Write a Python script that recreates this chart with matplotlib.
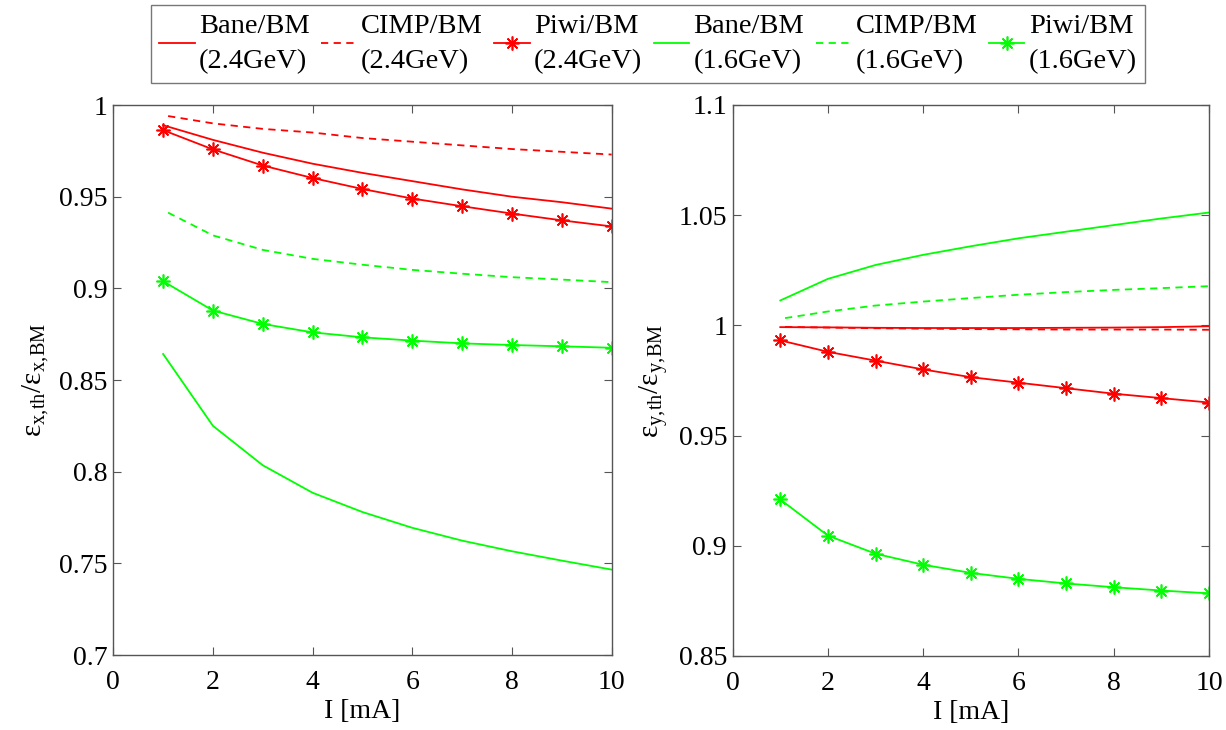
import numpy as np
import matplotlib
matplotlib.use("Agg")
import matplotlib.pyplot as plt
from matplotlib.ticker import FormatStrFormatter

plt.rcParams["font.family"] = ["Liberation Serif", "DejaVu Serif"]
plt.rcParams["mathtext.fontset"] = "custom"
plt.rcParams["mathtext.rm"] = "Liberation Serif"
plt.rcParams["mathtext.it"] = "Liberation Serif"

# current (mA)
I = [1, 2, 3, 4, 5, 6, 7, 8, 9, 10]
I_cimp = [1.1, 2, 3, 4, 5, 6, 7, 8, 9, 10]

# horizontal emittance ratios
x_bane_24 = [0.989, 0.981, 0.974, 0.968, 0.963, 0.9585, 0.954, 0.950, 0.947, 0.9435]
x_cimp_24 = [0.994, 0.990, 0.987, 0.985, 0.982, 0.980, 0.978, 0.976, 0.9745, 0.973]
x_piwi_24 = [0.9863, 0.9758, 0.967, 0.9602, 0.9542, 0.949, 0.9448, 0.9408, 0.9371, 0.9338]
x_bane_16 = [0.8642, 0.825, 0.8035, 0.7885, 0.778, 0.7694, 0.7624, 0.7566, 0.7515, 0.7466]
x_cimp_16 = [0.9413, 0.9289, 0.921, 0.9161, 0.9129, 0.9101, 0.908, 0.9061, 0.9048, 0.9034]
x_piwi_16 = [0.9039, 0.8879, 0.8806, 0.876, 0.8733, 0.8715, 0.870, 0.8691, 0.8684, 0.8676]

# vertical emittance ratios
y_bane_24 = [0.9992, 0.9991, 0.9989, 0.9988, 0.9988, 0.9988, 0.9989, 0.999, 0.9992, 0.9996]
y_cimp_24 = [0.9993, 0.999, 0.9987, 0.9985, 0.9983, 0.9982, 0.9981, 0.9981, 0.9981, 0.998]
y_piwi_24 = [0.9932, 0.988, 0.984, 0.980, 0.9765, 0.974, 0.9715, 0.969, 0.967, 0.965]
y_bane_16 = [1.0113, 1.0211, 1.0274, 1.032, 1.0359, 1.0395, 1.0425, 1.0455, 1.0485, 1.0512]
y_cimp_16 = [1.0033, 1.0063, 1.009, 1.0108, 1.0124, 1.0139, 1.0151, 1.0161, 1.0169, 1.0178]
y_piwi_16 = [0.921, 0.9046, 0.8964, 0.8914, 0.8877, 0.885, 0.8829, 0.8812, 0.8797, 0.8784]

labels = ["Bane/BM\n(2.4GeV)", "CIMP/BM\n(2.4GeV)", "Piwi/BM\n(2.4GeV)",
          "Bane/BM\n(1.6GeV)", "CIMP/BM\n(1.6GeV)", "Piwi/BM\n(1.6GeV)"]

RED = "#ff0000"
GREEN = "#00ff00"
AX = "#555555"
FS = 20
ast = (8, 2, 0)


def draw(ax, bane24, cimp24, piwi24, bane16, cimp16, piwi16):
    h = []
    h += ax.plot(I, bane24, color=RED, lw=1.3)
    h += ax.plot(I_cimp, cimp24, color=RED, lw=1.3, ls=(0, (4, 3)))
    h += ax.plot(I, piwi24, color=RED, lw=1.3, marker=ast, ms=10, mew=1.2)
    h += ax.plot(I, bane16, color=GREEN, lw=1.3)
    h += ax.plot(I_cimp, cimp16, color=GREEN, lw=1.3, ls=(0, (4, 3)))
    h += ax.plot(I, piwi16, color=GREEN, lw=1.3, marker=ast, ms=10, mew=1.2)
    ax.set_xlim(0, 10)
    ax.set_xticks([0, 2, 4, 6, 8, 10])
    ax.set_xlabel("I [mA]", fontsize=FS, labelpad=3)
    ax.yaxis.set_major_formatter(FormatStrFormatter("%g"))
    ax.tick_params(direction="in", top=True, right=True, length=6,
                   labelsize=FS, color=AX)
    ax.tick_params(axis="x", pad=11)
    ax.tick_params(axis="y", pad=4)
    for s in ax.spines.values():
        s.set_color(AX)
        s.set_linewidth(1.0)
    return h


fig = plt.figure(figsize=(12.26, 7.3), dpi=100)
ax1 = fig.add_axes([0.0924, 0.1027, 0.4065, 0.7534])
ax2 = fig.add_axes([0.5976, 0.1014, 0.3885, 0.7548])

h = draw(ax1, x_bane_24, x_cimp_24, x_piwi_24, x_bane_16, x_cimp_16, x_piwi_16)
ax1.set_ylim(0.7, 1.0)
ax1.set_yticks([0.7, 0.75, 0.8, 0.85, 0.9, 0.95, 1.0])
ax1.set_ylabel(r"$\mathrm{ε_{x,\!th}/ε_{x,\!BM}}$", fontsize=21, labelpad=6)

draw(ax2, y_bane_24, y_cimp_24, y_piwi_24, y_bane_16, y_cimp_16, y_piwi_16)
ax2.set_ylim(0.85, 1.1)
ax2.set_yticks([0.85, 0.9, 0.95, 1.0, 1.05, 1.1])
ax2.set_ylabel(r"$\mathrm{ε_{y,\!th}/ε_{y,\!BM}}$", fontsize=21, labelpad=6)

leg = fig.legend(h, labels, loc="upper center", bbox_to_anchor=(0.5285, 0.993),
                 ncol=6, fontsize=20.5, frameon=True, fancybox=False,
                 handlelength=1.25, handletextpad=0.15, columnspacing=0.4,
                 borderpad=0.3, labelspacing=0.2, borderaxespad=0)
for t in leg.get_texts():
    t.set_linespacing(1.55)
    t.set_multialignment("left")
leg.get_frame().set_edgecolor(AX)
leg.get_frame().set_linewidth(1.0)

fig.savefig("out.png", dpi=100)
